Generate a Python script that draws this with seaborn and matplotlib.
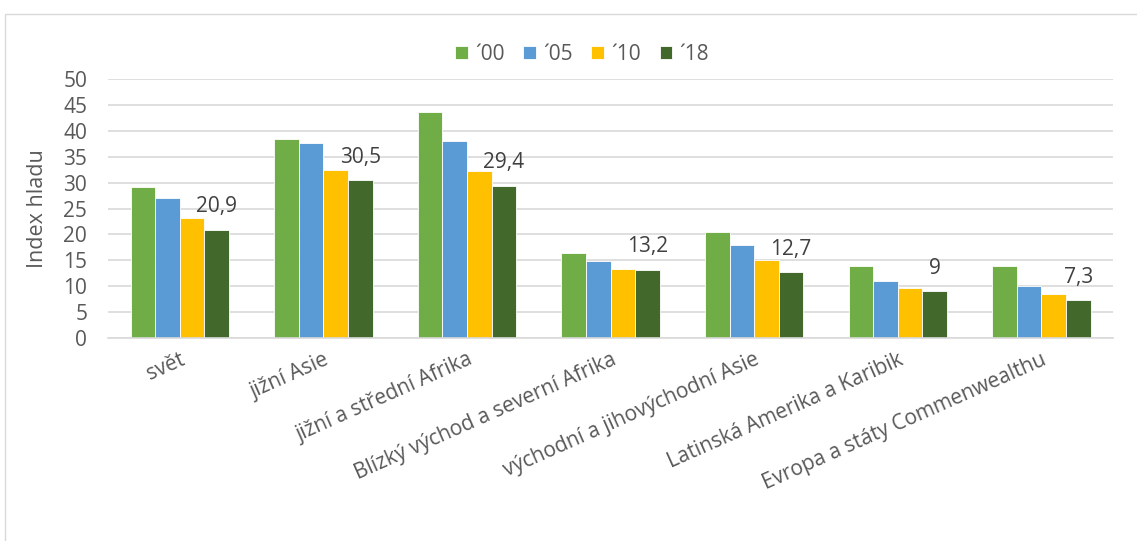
import pandas as pd
import matplotlib.pyplot as plt
import seaborn as sns
from matplotlib.patches import Rectangle

# Data
regions = ["svět", "jižní Asie", "jižní a střední Afrika",
           "Blízký východ a severní Afrika", "východní a jihovýchodní Asie",
           "Latinská Amerika a Karibik", "Evropa a státy Commenwealthu"]
years = ["´00", "´05", "´10", "´18"]
v00 = [29.2, 38.4, 43.6, 16.4, 20.5, 14.0, 13.9]
v05 = [27.0, 37.6, 38.1, 14.9, 17.9, 11.0, 10.1]
v10 = [23.1, 32.4, 32.2, 13.3, 15.1, 9.7, 8.6]
v18 = [20.9, 30.5, 29.4, 13.2, 12.7, 9.0, 7.3]
colors = ["#70AD47", "#5B9BD5", "#FFC000", "#43682B"]

rows = []
for year, vals in zip(years, [v00, v05, v10, v18]):
    for reg, v in zip(regions, vals):
        rows.append({"region": reg, "rok": year, "index": v})
df = pd.DataFrame(rows)

sns.set_style("white")
plt.rcParams["font.family"] = ["Open Sans", "DejaVu Sans"]

fig = plt.figure(figsize=(11.37, 5.41), dpi=100)
ax = fig.add_axes([0.095, 0.375, 0.884, 0.479])

sns.barplot(data=df, x="region", y="index", hue="rok", palette=colors,
            width=0.685, gap=0, saturation=1, ax=ax,
            edgecolor="white", linewidth=0.6, legend=True)

# labels only on the latest series
last = ax.containers[-1]
labels = [f"{v:g}".replace(".", ",") for v in v18]
ax.bar_label(last, labels=labels, padding=9, fontsize=15, color="#404040")

ax.set_ylim(0, 50)
ax.set_yticks(range(0, 51, 5))
ax.set_xlim(-0.5, len(regions) - 0.5)
ax.yaxis.grid(True, color="#D9D9D9", linewidth=1.2)
ax.set_axisbelow(True)
for s in ["top", "right", "left"]:
    ax.spines[s].set_visible(False)
ax.spines["bottom"].set_color("#D9D9D9")
ax.spines["bottom"].set_linewidth(1.2)
ax.tick_params(axis="both", length=0, labelsize=15, colors="#595959")
ax.tick_params(axis="y", pad=15)
ax.tick_params(axis="x", pad=8)
ax.set_xlabel("")
ax.set_ylabel("Index hladu", fontsize=15.5, color="#595959", labelpad=11)
plt.setp(ax.get_xticklabels(), rotation=24, ha="right",
         rotation_mode="anchor", fontsize=15)

ax.legend(loc="center", bbox_to_anchor=(0.512, 0.9), bbox_transform=fig.transFigure,
          ncol=4, frameon=False, fontsize=15, handlelength=0.6, handleheight=0.6,
          columnspacing=0.9, handletextpad=0.35, labelcolor="#595959")

# chart area border
fig.patches.append(Rectangle((5 / 1137, -0.1), 1.2, 1.074, transform=fig.transFigure,
                             fill=False, edgecolor="#D9D9D9", linewidth=1))

plt.savefig("out.png", dpi=100)
